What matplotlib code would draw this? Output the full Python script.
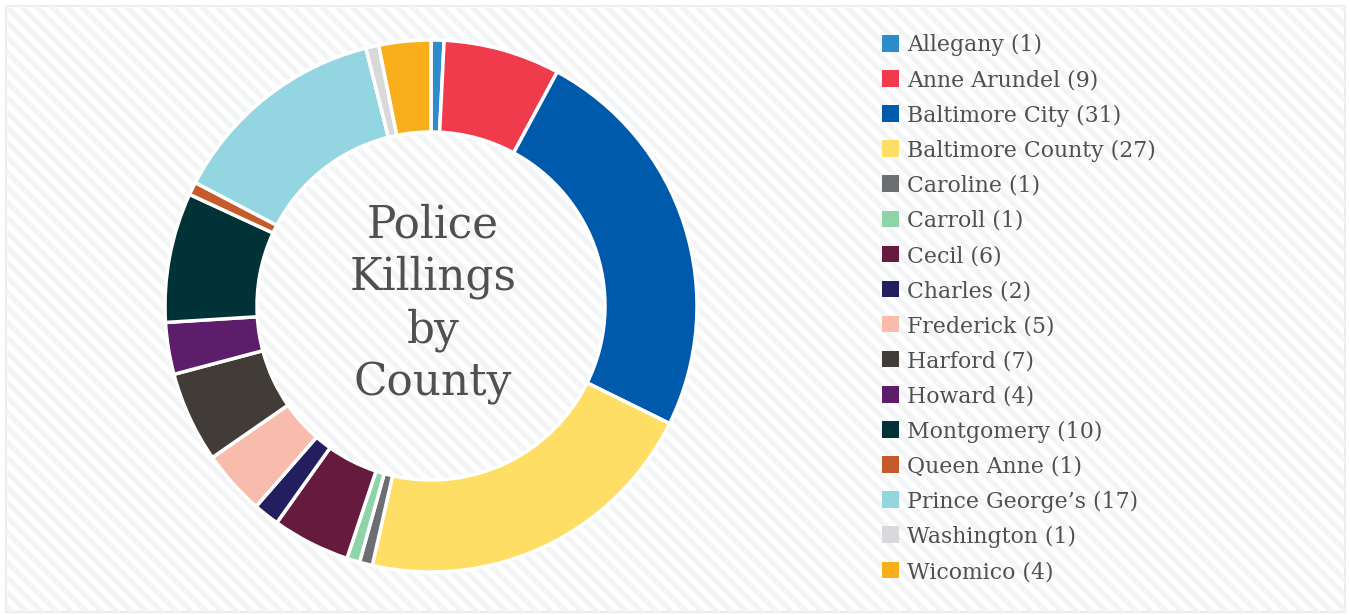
import matplotlib.pyplot as plt
from matplotlib.patches import Rectangle
from matplotlib.collections import LineCollection
import numpy as np

# county counts, in legend order
counties = ['Allegany', 'Anne Arundel', 'Baltimore City', 'Baltimore County',
            'Caroline', 'Carroll', 'Cecil', 'Charles', 'Frederick', 'Harford',
            'Howard', 'Montgomery', 'Queen Anne', 'Prince George\u2019s',
            'Washington', 'Wicomico']
killings = [1, 9, 31, 27, 1, 1, 6, 2, 5, 7, 4, 10, 1, 17, 1, 4]
colors = ['#2e8bcc', '#ef3b4c', '#005aab', '#ffde66', '#6d6e71', '#8fd3a8',
          '#651a3e', '#231f5e', '#f8bcad', '#413c38', '#5c1d6b', '#003237',
          '#c65a2a', '#93d6e2', '#d9d9dc', '#f9ae1b']

title_lines = ['Police', 'Killings', 'by', 'County']

W, H = 1350, 615
text_col = '#505050'
serif = 'DejaVu Serif'

fig = plt.figure(figsize=(W / 100, H / 100), dpi=100)
fig.patch.set_facecolor('white')

# background in pixel coordinates
bg = fig.add_axes([0, 0, 1, 1])
bg.set_xlim(0, W)
bg.set_ylim(H, 0)
bg.axis('off')

frame = Rectangle((6, 6), 1339, 606, facecolor='white', edgecolor='#e8e8e8',
                  lw=1.2, zorder=0)
bg.add_patch(frame)
segs = [[(x0, 0), (x0 + H, H)] for x0 in np.arange(-H, W + 15, 15)]
stripes = LineCollection(segs, colors='#f2f4f6', linewidths=3.8, zorder=0.5)
bg.add_collection(stripes)
stripes.set_clip_path(frame)

# donut, radius in pixels
cx, cy, r = 431, 306, 266
ax = fig.add_axes([(cx - 300) / W, (H - cy - 300) / H, 600 / W, 600 / H])
ax.pie(killings, colors=colors, startangle=90, counterclock=False, radius=r,
       wedgeprops=dict(width=92, edgecolor='white', linewidth=2.5))
ax.set_xlim(-300, 300)
ax.set_ylim(-300, 300)
ax.set_aspect('equal')
ax.axis('off')

for i, line in enumerate(title_lines):
    bg.text(cx + 2, 237 + i * 52.8, line, ha='center', va='baseline',
            fontsize=31.5, color=text_col, family=serif, zorder=3)

# legend
for i, (name, n, c) in enumerate(zip(counties, killings, colors)):
    top = 35 + i * 35.1
    bg.add_patch(Rectangle((882, top), 16.5, 16.5, facecolor=c,
                           edgecolor='none', zorder=2))
    bg.text(907, top + 16.5, f'{name} ({n})', ha='left', va='baseline',
            fontsize=15.8, color=text_col, family=serif, zorder=3)

fig.savefig('out.png', dpi=100)
